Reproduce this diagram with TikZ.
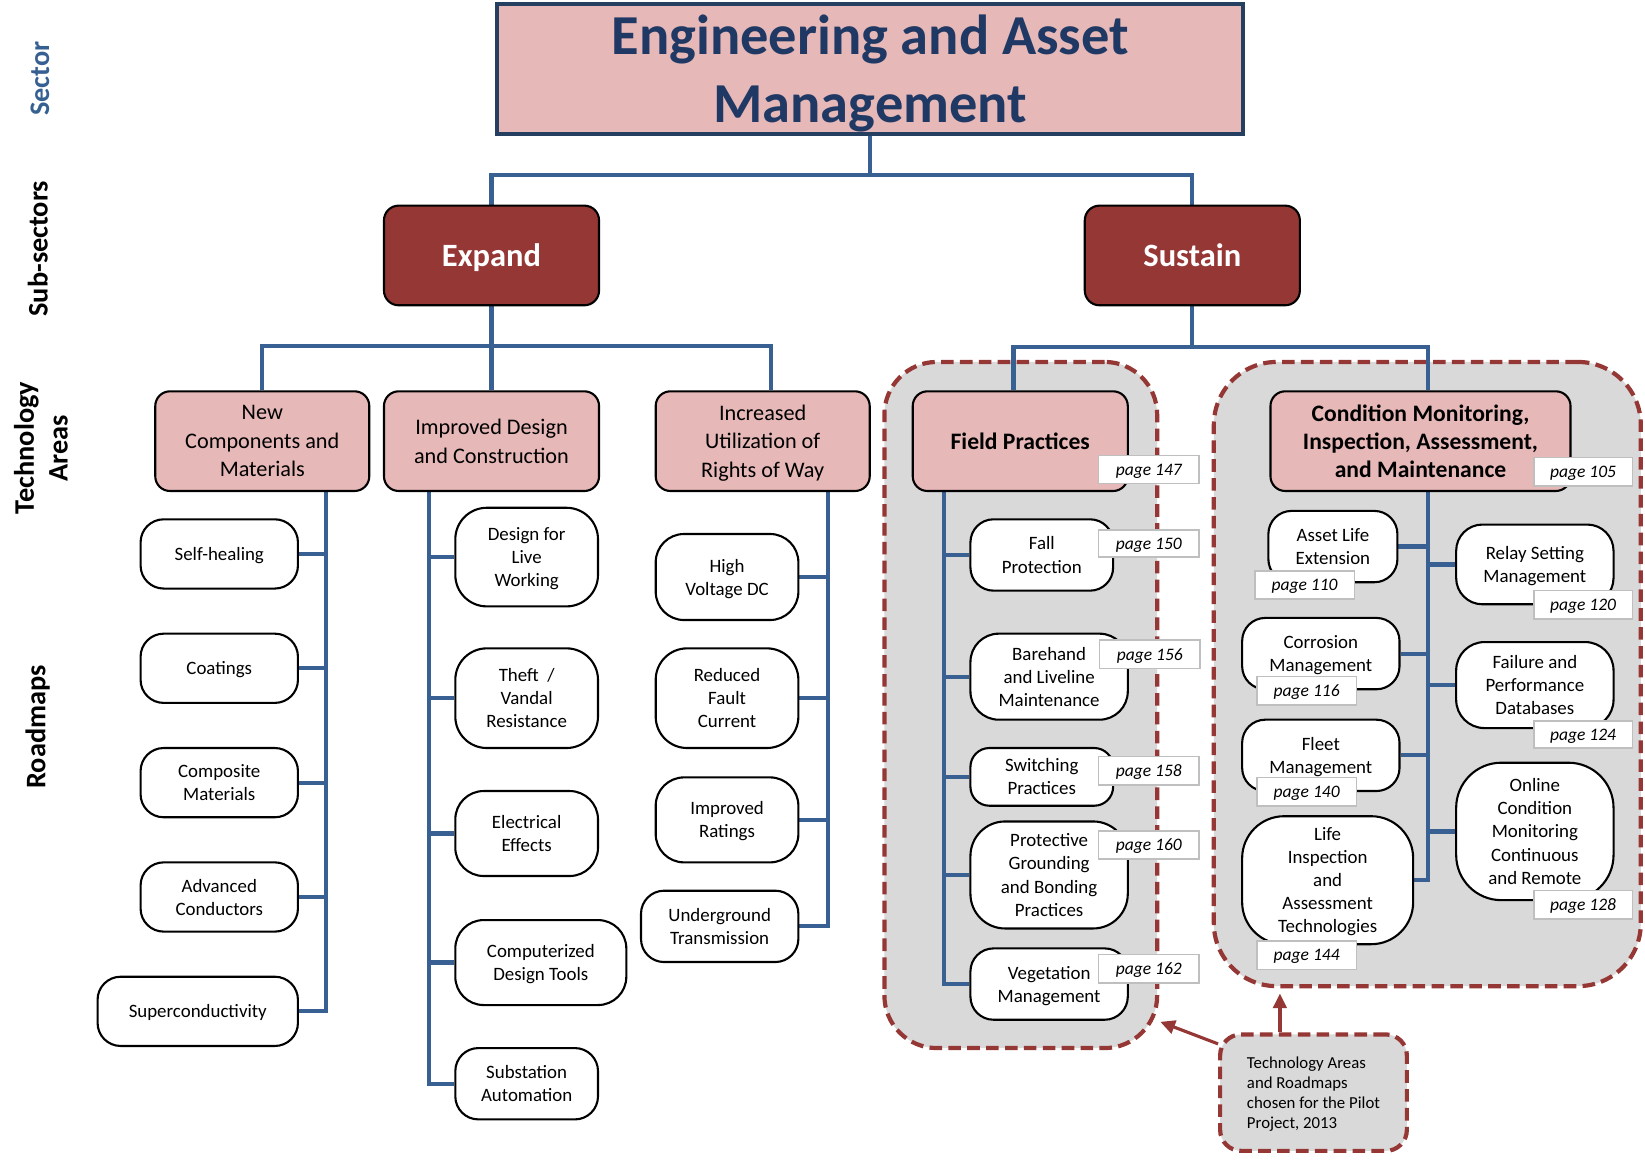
\documentclass[tikz,border=0pt]{standalone}
\usepackage{fontspec}
\setmainfont{Carlito}
\usetikzlibrary{arrows.meta}
\definecolor{lineblue}{RGB}{56,96,146}
\definecolor{pinkf}{RGB}{230,184,183}
\definecolor{darkred}{RGB}{149,55,53}
\definecolor{grayf}{RGB}{217,217,217}
\definecolor{navy}{RGB}{31,56,100}
\definecolor{titleborder}{RGB}{36,63,96}
\definecolor{pgborder}{RGB}{191,191,191}
\definecolor{sectorblue}{RGB}{55,96,146}
\pgfdeclarelayer{grp}
\pgfdeclarelayer{wires}
\pgfsetlayers{grp,wires,main}
\newcommand\BX[7]{\node[#1, minimum width={#5pt-#3pt}, minimum height={#6pt-#4pt}] (#2) at ({(#3+#5)/2},{(#4+#6)/2}) {#7};}
\tikzset{
 conn/.style={draw=lineblue, line width=4pt, line join=miter},
 rm/.style={draw=black, line width=2pt, fill=white, align=center, inner sep=0pt, rounded corners=22pt, text depth=-3pt, font=\fontsize{18}{22}\selectfont},
 ta/.style={draw=black, line width=2pt, fill=pinkf, rounded corners=14pt, align=center, inner sep=0pt, text depth=-2.5pt, font=\fontsize{21.2}{27}\selectfont},
 tab/.style={ta, font=\fontsize{22.5}{27}\selectfont\bfseries},
 subsec/.style={draw=black, line width=2pt, fill=darkred, rounded corners=14pt, text=white, inner sep=0pt, text depth=-0.5pt, font=\fontsize{31}{37}\selectfont\bfseries},
 grpbox/.style={draw=darkred, fill=grayf, line width=4pt, dash pattern=on 12pt off 6pt},
 pg/.style={draw=pgborder, fill=white, line width=1.5pt, inner sep=0pt, text depth=-0.5pt, font=\fontsize{16.7}{20}\selectfont\itshape},
 lab/.style={rotate=90, font=\fontsize{27}{32}\selectfont\bfseries, align=center},
 arr/.style={draw=darkred, line width=3pt, -{Triangle[length=14pt,width=13pt]}},
 titlebox/.style={draw=titleborder, line width=3.5pt, fill=pinkf, text=navy, align=center, inner sep=0pt, text depth=1pt, font=\fontsize{53.8}{65}\selectfont\bfseries},
}
\begin{document}
\begin{tikzpicture}[x=1pt,y=-1pt]
\useasboundingbox (0,0) rectangle (1568,1105);

% row labels
\node[lab, text=sectorblue] (lsector) at (38,75) {Sector};
\node[lab] (lsub) at (36,237) {Sub-sectors};
\node[lab] (ltech) at (39,427) {Technology\\Areas};
\node[lab] (lroad) at (36,693) {Roadmaps};

% groups
\begin{pgfonlayer}{grp}
\BX{grpbox, rounded corners=50pt}{fpg}{843}{345}{1103}{999}{}
\BX{grpbox, rounded corners=60pt}{cmg}{1157}{345}{1564}{940}{}
\end{pgfonlayer}

% title and sub-sectors
\BX{titlebox}{title}{474}{4}{1185}{128}{Engineering and Asset\\Management}
\BX{subsec}{expand}{366}{196}{571}{291}{Expand}
\BX{subsec}{sustain}{1034}{196}{1239}{291}{Sustain}

% technology areas
\BX{ta}{newcomp}{148}{373}{352}{468}{New\\Components and\\Materials}
\BX{ta}{impdc}{366}{373}{571}{468}{Improved Design\\and Construction}
\BX{ta}{incuti}{625}{373}{829}{468}{Increased\\Utilization of\\Rights of Way}
\BX{tab}{fieldp}{870}{373}{1075}{468}{Field Practices}
\BX{tab}{condmon}{1211}{373}{1497}{468}{Condition Monitoring,\\Inspection, Assessment,\\and Maintenance}

% roadmaps column 1
\BX{rm}{selfheal}{134}{495}{284}{561}{Self-healing}
\BX{rm}{coatings}{134}{604}{284}{670}{Coatings}
\BX{rm}{composite}{134}{713}{284}{779}{Composite\\Materials}
\BX{rm}{advcond}{134}{822}{284}{888}{Advanced\\Conductors}
\BX{rm}{supercond}{93}{931}{284}{997}{Superconductivity}

% column 2
\BX{rm, rounded corners=30pt}{dflw}{434}{484}{570}{578}{Design for\\Live\\Working}
\BX{rm, rounded corners=30pt}{theft}{434}{618}{570}{713}{Theft~ /\\Vandal\\Resistance}
\BX{rm, rounded corners=27pt}{eleceff}{434}{754}{570}{835}{Electrical\\Effects}
\BX{rm, rounded corners=27pt}{cdt}{434}{877}{597}{958}{Computerized\\Design Tools}
\BX{rm}{subauto}{434}{999}{570}{1067}{Substation\\Automation}

% column 3
\BX{rm, rounded corners=27pt}{hvdc}{625}{509}{761}{591}{High\\Voltage DC}
\BX{rm, rounded corners=30pt}{rfc}{625}{618}{761}{713}{Reduced\\Fault\\Current}
\BX{rm, rounded corners=27pt}{impr}{625}{741}{761}{822}{Improved\\Ratings}
\BX{rm}{ugt}{611}{849}{761}{917}{Underground\\Transmission}

% field practices
\BX{rm}{fall}{925}{495}{1061}{563}{Fall\\Protection}
\BX{rm, rounded corners=27pt}{bare}{925}{604}{1075}{686}{Barehand\\and Liveline\\Maintenance}
\BX{rm, rounded corners=18pt}{switch}{925}{713}{1061}{768}{Switching\\Practices}
\BX{rm, rounded corners=33pt}{protect}{925}{783}{1075}{885}{Protective\\Grounding\\and Bonding\\Practices}
\BX{rm}{veg}{925}{904}{1075}{972}{Vegetation\\Management}

% condition monitoring
\BX{rm}{ale}{1209}{487}{1332}{555}{Asset Life\\Extension}
\BX{rm}{corr}{1184}{589}{1334}{657}{Corrosion\\Management}
\BX{rm}{fleet}{1184}{686}{1334}{754}{Fleet\\Management}
\BX{rm, rounded corners=40pt}{lia}{1184}{778}{1347}{900}{Life\\Inspection\\and\\Assessment\\Technologies}
\BX{rm, rounded corners=25pt}{rsm}{1388}{500}{1538}{576}{Relay Setting\\Management}
\BX{rm, rounded corners=27pt}{fpd}{1388}{612}{1538}{694}{Failure and\\Performance\\Databases}
\BX{rm, rounded corners=43pt}{ocm}{1388}{727}{1538}{858}{Online\\Condition\\Monitoring\\Continuous\\and Remote}

% page labels
\BX{pg}{p147}{1047}{434}{1143}{461}{page 147}
\BX{pg}{p105}{1462}{436}{1556}{463}{page 105}
\BX{pg}{p150}{1047}{505}{1143}{531}{page 150}
\BX{pg}{p156}{1048}{610}{1144}{637}{page 156}
\BX{pg}{p158}{1047}{721}{1143}{748}{page 158}
\BX{pg}{p160}{1047}{792}{1143}{819}{page 160}
\BX{pg}{p162}{1047}{910}{1143}{937}{page 162}
\BX{pg}{p110}{1196}{544}{1291}{571}{page 110}
\BX{pg}{p116}{1198}{645}{1293}{672}{page 116}
\BX{pg}{p140}{1198}{741}{1293}{768}{page 140}
\BX{pg}{p144}{1198}{897}{1293}{924}{page 144}
\BX{pg}{p120}{1462}{563}{1556}{590}{page 120}
\BX{pg}{p124}{1462}{687}{1556}{713}{page 124}
\BX{pg}{p128}{1462}{849}{1556}{876}{page 128}

% callout
\BX{grpbox, rounded corners=20pt, align=left, inner sep=0pt, text depth=-1.5pt, font=\fontsize{16}{19}\selectfont}{callout}{1163}{986}{1341}{1097}{Technology Areas\\and Roadmaps\\chosen for the Pilot\\Project, 2013}

% connectors
\begin{pgfonlayer}{wires}
\coordinate (tj) at ([yshift=-37pt]title.south);
\draw[conn] (title.south) -- (tj);
\draw[conn] (expand.north) |- (tj) -| (sustain.north);
\coordinate (ej) at ([yshift=-38pt]expand.south);
\draw[conn] (expand.south) -- (impdc.north);
\draw[conn] (newcomp.north) |- (ej) -| ([xshift=8pt]incuti.north);
\coordinate (sj) at ([yshift=-39pt]sustain.south);
\draw[conn] (sustain.south) -- (sj);
\draw[conn] ([xshift=-6.5pt]fieldp.north) |- (sj) -| ([xshift=7pt]condmon.north);
% spines
\coordinate (s1) at ([xshift=61pt]newcomp.south);
\draw[conn] (s1) |- (supercond.east);
\foreach \n in {selfheal,coatings,composite,advcond} \draw[conn] (\n.east) -- (\n.east -| s1);
\coordinate (s2) at ([xshift=-59.5pt]impdc.south);
\draw[conn] (s2) |- (subauto.west);
\foreach \n in {dflw,theft,eleceff,cdt} \draw[conn] (\n.west) -- (\n.west -| s2);
\coordinate (s3) at ([xshift=62pt]incuti.south);
\draw[conn] (s3) |- (ugt.east);
\foreach \n in {hvdc,rfc,impr} \draw[conn] (\n.east) -- (\n.east -| s3);
\coordinate (s4) at ([xshift=-72.5pt]fieldp.south);
\draw[conn] (s4) |- (veg.west);
\foreach \n in {fall,bare,switch,protect} \draw[conn] (\n.west) -- (\n.west -| s4);
\coordinate (s5) at ([xshift=7pt]condmon.south);
\draw[conn] (s5) |- (lia.east);
\foreach \n in {ale,corr,fleet} \draw[conn] (\n.east) -- (\n.east -| s5);
\foreach \n in {rsm,fpd,ocm} \draw[conn] (\n.west) -- (\n.west -| s5);
\end{pgfonlayer}

% arrows
\draw[arr] ([yshift=-11pt]callout.north west) -- ([xshift=1pt,yshift=27pt]fpg.south east);
\draw[arr, shorten >=5pt] ([xshift=-32pt]callout.north) -- ([xshift=-32pt]callout.north |- cmg.south);
\end{tikzpicture}
\end{document}
